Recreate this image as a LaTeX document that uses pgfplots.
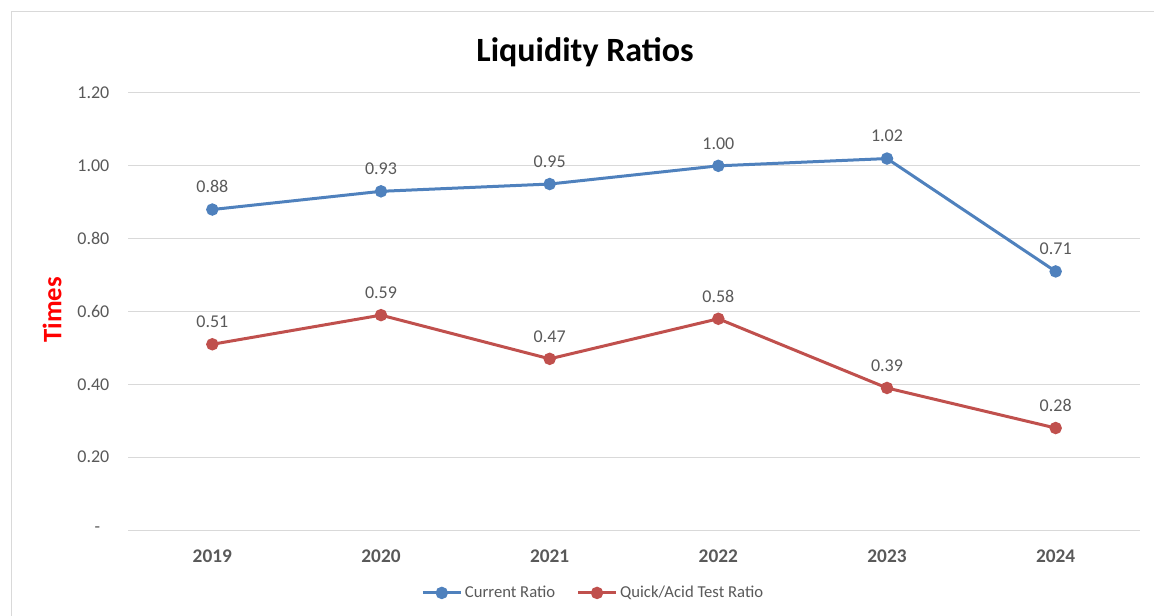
\documentclass[border=0pt]{standalone}
\usepackage{pgfplots}
\pgfplotsset{compat=1.18}
\usepackage{fontspec}
\setmainfont{Carlito}
\definecolor{cblue}{HTML}{4F81BD}
\definecolor{cred}{HTML}{C0504D}
\definecolor{ctext}{HTML}{595959}
\definecolor{cgrid}{HTML}{D9D9D9}
\begin{document}
\begin{tikzpicture}
\path[use as bounding box] (0,0) rectangle (865.5pt,461.25pt);
\draw[cgrid,line width=0.75pt] (8.25pt,-10pt) -- (8.25pt,452.25pt) -- (880pt,452.25pt);
\begin{axis}[
  at={(96pt,63.75pt)}, anchor=south west,
  width=759pt, height=327.75pt, scale only axis,
  xmin=-0.5, xmax=5.5, ymin=0, ymax=1.2,
  xtick={0,1,2,3,4,5},
  xticklabels={2019,2020,2021,2022,2023,2024},
  ytick={0,0.2,0.4,0.6,0.8,1.0,1.2},
  yticklabels={-\hphantom{0},0.20,0.40,0.60,0.80,1.00,1.20},
  axis line style={draw=none},
  tick style={draw=none},
  ymajorgrids, grid style={cgrid,line width=0.75pt},
  yticklabel style={font=\fontsize{13.5}{15}\selectfont, text=ctext, xshift=-10.5pt},
  xticklabel style={font=\fontsize{14.5}{16}\selectfont\bfseries, text=ctext, yshift=-11pt},
  /pgf/number format/assume math mode=true,
  nodes near coords,
  point meta=explicit symbolic,
  every node near coord/.append style={font=\fontsize{13.5}{15}\selectfont, text=ctext, yshift=8pt},
  legend style={draw=none, at={(0.46,-0.144)}, anchor=center, legend columns=2,
    font=\fontsize{12.5}{14}\selectfont, text=ctext,
    /tikz/every even column/.append style={column sep=14pt}},
  legend image code/.code={\draw[mark repeat=2,mark phase=2] plot coordinates {(0pt,0pt) (14.25pt,0pt) (28.5pt,0pt)};},
  legend cell align=left,
  clip=false,
]
\addplot[cblue, line width=2.25pt, mark=*, mark size=3.5pt] coordinates {
  (0,0.88) [0.88] (1,0.93) [0.93] (2,0.95) [0.95] (3,1.00) [1.00] (4,1.02) [1.02] (5,0.71) [0.71]
};
\addlegendentry{Current Ratio}
\addplot[cred, line width=2.25pt, mark=*, mark size=3.5pt] coordinates {
  (0,0.51) [0.51] (1,0.59) [0.59] (2,0.47) [0.47] (3,0.58) [0.58] (4,0.39) [0.39] (5,0.28) [0.28]
};
\addlegendentry{Quick/Acid Test Ratio}
\end{axis}
\node[font=\fontsize{25.5}{30}\selectfont\bfseries] at (438.75pt,422.25pt) {Liquidity Ratios};
\node[font=\fontsize{20}{24}\selectfont\bfseries, text=red, rotate=90] at (39pt,228.75pt) {Times};
\end{tikzpicture}
\end{document}
